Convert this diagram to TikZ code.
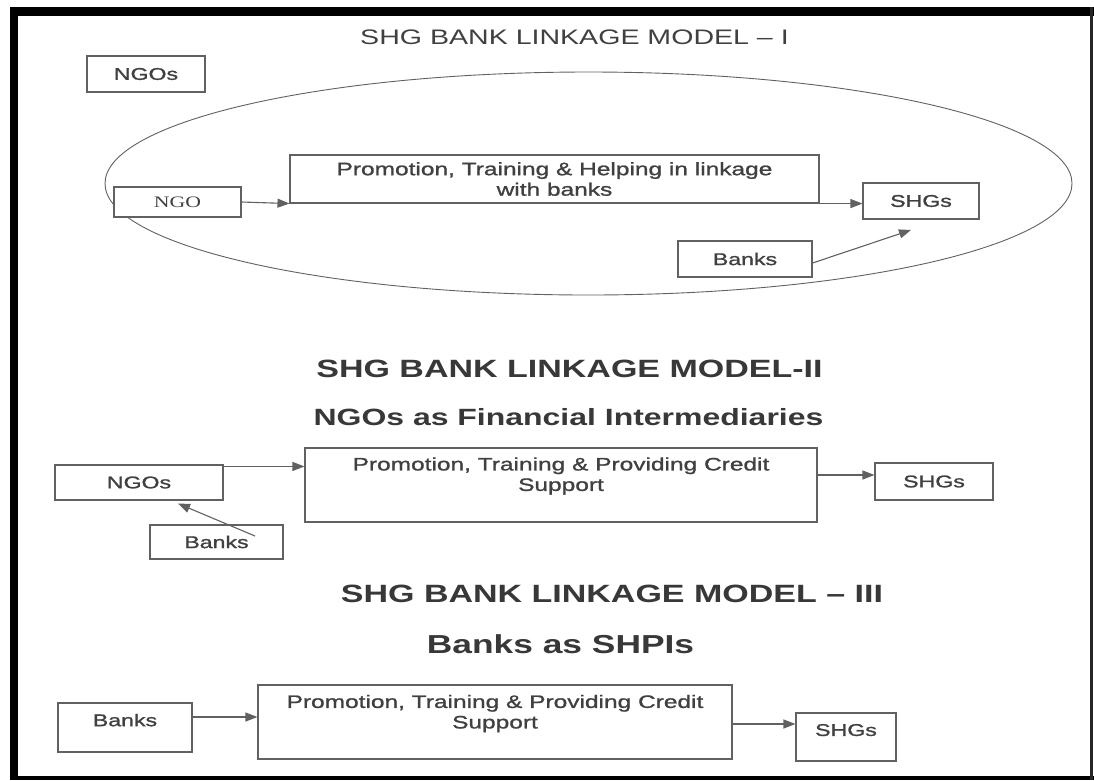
\documentclass[tikz,border=0pt]{standalone}
\usepackage{fontspec}
\usetikzlibrary{arrows.meta}
\newfontfamily\labfont[FakeStretch=1.36]{Liberation Sans}
\newfontfamily\labbfont[FakeStretch=1.36,FakeBold=1.2]{Liberation Sans}
\newfontfamily\ngofont[FakeStretch=1.36]{Liberation Serif}
\begin{document}
\begin{tikzpicture}[x=1pt,y=-1pt,
  lin/.style={draw=black!62, line width=1.1pt},
  box/.style={lin, fill=white, inner sep=0pt, font=\labbfont\fontsize{17}{20}\selectfont, text=black!75},
  pfont/.style={font=\labbfont\fontsize{18}{20.5}\selectfont, text=black!75, align=center},
  ptext/.style={pfont, inner sep=0pt},
  arr/.style={lin, -{Triangle[length=12pt,width=9pt]}},
  tone/.style={font=\labfont\fontsize{21}{24}\selectfont, text=black!75, inner sep=0pt},
  ttl/.style={font=\labfont\bfseries\fontsize{25}{28}\selectfont, text=black!78, inner sep=0pt},
]
\useasboundingbox (0,0) rectangle (1094,780);
\fill[white] (0,0) rectangle (1094,780);
% frame
\fill[black] (10,7) rectangle (1094,16);
\fill[black] (10,7) rectangle (18,780);
\fill[black] (10,776) rectangle (1094,780);
\fill[black!85] (1090,7) rectangle (1093,780);

% ---------- Model I ----------
\node[tone] (t1) at (574.5,37.5) {SHG BANK LINKAGE MODEL – I};
\draw[lin, line width=0.9pt] (588.5,183.5) ellipse [x radius=483.5pt, y radius=111.5pt];
\node[box, minimum width=118pt, minimum height=36pt] (ngosI) at (146,74) {NGOs};
\node[box, minimum width=127pt, minimum height=30pt, font=\ngofont\fontsize{16}{18}\selectfont] (ngo) at (177.5,202) {NGO\hspace{39pt}};
\node[box, pfont, minimum width=529pt, minimum height=48pt] (p1) at (554.5,179) {Promotion, Training \& Helping in linkage\\with banks};
\node[box, minimum width=116pt, minimum height=36pt] (shgI) at (921,201) {SHGs};
\node[box, minimum width=134pt, minimum height=36pt] (bankI) at (745,259) {Banks};
\coordinate (bItip) at (911,230);
\draw[arr] (ngo.east) -- (p1.south west);
\draw[arr] (p1.south east) -- (p1.south east -| shgI.west);
\draw[arr] ([yshift=-4pt]bankI.east) -- (bItip);

% ---------- Model II ----------
\node[ttl] (t2) at (569.5,369) {SHG BANK LINKAGE MODEL-II};
\node[ttl, font=\labfont\bfseries\fontsize{23.5}{28}\selectfont] (t3) at (568.5,417.5) {NGOs as Financial Intermediaries};
\node[box, minimum width=168pt, minimum height=35pt] (ngosII) at (139,482.5) {NGOs};
\node[box, minimum width=512pt, minimum height=74pt] (p2) at (561,485) {};
\node[ptext] (p2t) at (561,476) {Promotion, Training \& Providing Credit\\Support};
\node[box, minimum width=118pt, minimum height=37pt] (shgII) at (934,481.5) {SHGs};
\node[box, minimum width=133pt, minimum height=34pt] (bankII) at (216.5,542) {Banks};
\coordinate (n2) at ([yshift=-2pt]ngosII.north east);
\draw[arr] (n2) -- (n2 -| p2.west);
\coordinate (a2) at ([yshift=10pt]p2.east);
\draw[arr] (a2) -- (a2 -| shgII.west);
\coordinate (b2s) at ([xshift=38.5pt,yshift=6pt]bankII.center);
\coordinate (b2t) at ([xshift=39pt,yshift=-3pt]ngosII.south);
\draw[arr] (b2s) -- (b2t);

% ---------- Model III ----------
\node[ttl] (t4) at (612,594) {SHG BANK LINKAGE MODEL – III};
\node[ttl, font=\labfont\bfseries\fontsize{26}{28}\selectfont] (t5) at (560.5,644) {Banks as SHPIs};
\node[box, minimum width=134pt, minimum height=49pt, text depth=15pt] (bankIII) at (125,727.5) {Banks};
\node[box, minimum width=474pt, minimum height=74pt] (p3) at (495,722) {};
\node[ptext] (p3t) at (495,713.5) {Promotion, Training \& Providing Credit\\Support};
\node[box, minimum width=100pt, minimum height=48pt, text depth=14pt] (shgIII) at (846,737) {SHGs};
\coordinate (a3) at ([yshift=10.5pt]bankIII.east);
\draw[arr] (a3) -- (a3 -| p3.west);
\coordinate (c3) at ([yshift=-2pt]p3.east);
\draw[arr] (c3) -- (c3 -| shgIII.west);
\end{tikzpicture}
\end{document}
